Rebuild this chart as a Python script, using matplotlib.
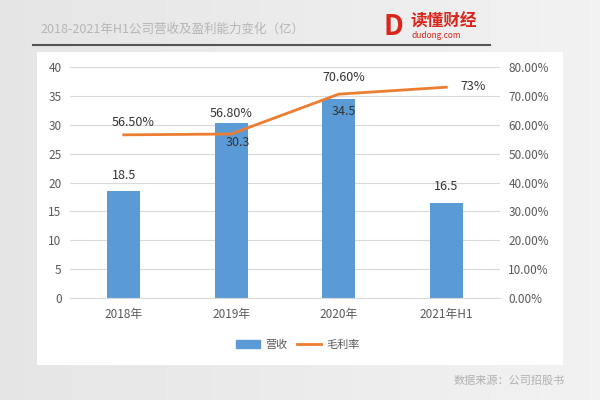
import matplotlib.pyplot as plt
import numpy as np
from matplotlib.patches import Rectangle
from matplotlib.ticker import FuncFormatter

plt.rcParams["font.family"] = ["Noto Sans CJK SC", "DejaVu Sans"]

# data
years = ["2018年", "2019年", "2020年", "2021年H1"]
revenue = [18.5, 30.3, 34.5, 16.5]
margin = [0.565, 0.568, 0.706, 0.73]
margin_labels = ["56.50%", "56.80%", "70.60%", "73%"]

BLUE = "#5b9bd5"
ORANGE = "#ed7d31"
GRID = "#d9d9d9"
TICK = "#595959"

fig = plt.figure(figsize=(6, 4), dpi=100)
fig.patch.set_facecolor("#ebebeb")

# background gradient
bg = fig.add_axes([0, 0, 1, 1], zorder=-10)
grad = np.linspace(0.90, 0.95, 256).reshape(1, -1)
bg.imshow(np.dstack([grad, grad, grad]), aspect="auto", extent=[0, 1, 0, 1])
bg.set_xlim(0, 1)
bg.set_ylim(0, 1)
bg.axis("off")

# white panel and header line
bg.add_patch(Rectangle((37 / 600, 1 - 365 / 400), 526 / 600, 313 / 400,
                       facecolor="white", edgecolor="none", zorder=1))
bg.plot([33 / 600, 490 / 600], [1 - 45 / 400, 1 - 45 / 400], color="#555555", lw=1.5, zorder=2)

fig.text(40 / 600, 1 - 29 / 400, "2018-2021年H1公司营收及盈利能力变化（亿）",
         fontsize=9, color="#b5b5b5", va="center", ha="left")

# logo
fig.text(393 / 600, 1 - 27 / 400, "D", fontsize=20, fontweight="bold", color="#d9261c",
         va="center", ha="center")
fig.text(410 / 600, 1 - 22 / 400, "读懂财经", fontsize=12, fontweight="bold", color="#d9261c",
         va="center", ha="left")
fig.text(412 / 600, 1 - 36 / 400, "dudong.com", fontsize=6, color="#d9261c",
         va="center", ha="left")

fig.text(565 / 600, 1 - 381 / 400, "数据来源：公司招股书", fontsize=8, color="#b0b0b0",
         va="center", ha="right")

ax = fig.add_axes([70 / 600, 1 - 298 / 400, 430 / 600, 231 / 400])
ax.set_facecolor("none")
x = np.arange(len(years))
bars = ax.bar(x, revenue, width=0.31, color=BLUE, zorder=2)
ax.set_ylim(0, 40)
ax.set_xlim(-0.5, len(years) - 0.5)
ax.set_yticks(range(0, 41, 5))
ax.yaxis.grid(True, color=GRID, lw=0.8)
ax.set_axisbelow(True)
for s in ["top", "right", "left"]:
    ax.spines[s].set_visible(False)
ax.spines["bottom"].set_color(GRID)
ax.tick_params(length=0, colors=TICK, labelsize=8.5)
ax.tick_params(axis="y", pad=6)
ax.tick_params(axis="x", pad=7)
ax.set_xticks(x)
ax.set_xticklabels(years)

# bar value labels (offsets in points from bar top)
offsets = [(0, 11.5), (5, -14), (3.5, -9), (0, 11.5)]
for i, (v, (dx, dy)) in enumerate(zip(revenue, offsets)):
    ax.annotate(f"{v}", (x[i], v), xytext=(dx, dy), textcoords="offset points",
                ha="center", va="center", fontsize=9, color="#333333")

ax2 = ax.twinx()
ax2.plot(x, margin, color=ORANGE, lw=2, zorder=3)
ax2.set_ylim(0, 0.8)
ax2.set_yticks(np.arange(0, 0.81, 0.1))
ax2.yaxis.set_major_formatter(FuncFormatter(lambda v, p: f"{v * 100:.2f}%"))
for s in ["top", "right", "left", "bottom"]:
    ax2.spines[s].set_visible(False)
ax2.tick_params(length=0, colors=TICK, labelsize=8.5, pad=6)

m_offsets = [(6.5, 9), (0, 15), (4, 12), (19, 0.5)]
for i, (v, lab, (dx, dy)) in enumerate(zip(margin, margin_labels, m_offsets)):
    ax2.annotate(lab, (x[i], v), xytext=(dx, dy), textcoords="offset points",
                 ha="center", va="center", fontsize=9, color="#333333")

# legend
handles = [Rectangle((0, 0), 1, 1, color=BLUE),
           plt.Line2D([0], [0], color=ORANGE, lw=2)]
fig.legend(handles, ["营收", "毛利率"], loc="center", bbox_to_anchor=(298 / 600, 1 - 345 / 400),
           ncol=2, frameon=False, fontsize=8, labelcolor=TICK, handlelength=2.2,
           columnspacing=0.8, handletextpad=0.5)

fig.savefig("out.png", dpi=100, facecolor=fig.get_facecolor())
